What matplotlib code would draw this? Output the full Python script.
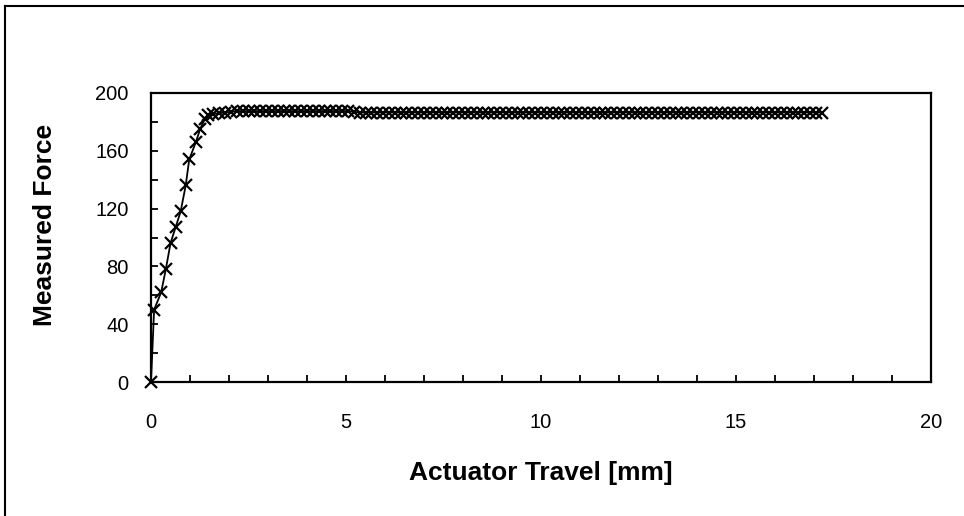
import matplotlib
matplotlib.use("Agg")
import matplotlib.pyplot as plt
from matplotlib.lines import Line2D
from matplotlib.ticker import MultipleLocator

plt.rcParams['font.family'] = ['Liberation Sans', 'DejaVu Sans']

# rising part of the curve
travel_rise = [0, 0.08, 0.26, 0.38, 0.50, 0.63, 0.76, 0.89, 0.98, 1.15, 1.26, 1.38, 1.47]
force_rise = [0, 50, 62, 78, 96, 107, 118, 136, 154, 166, 175, 182, 185]

# plateau
travel_flat = [1.6, 1.75, 1.9, 2.05, 2.2, 2.35, 2.5, 2.65, 2.8, 2.95,
               3.1, 3.25, 3.4, 3.55, 3.7, 3.85, 4.0, 4.15, 4.3, 4.45,
               4.6, 4.75, 4.9, 5.05, 5.2, 5.35, 5.5, 5.65, 5.8, 5.95,
               6.1, 6.25, 6.4, 6.55, 6.7, 6.85, 7.0, 7.15, 7.3, 7.45,
               7.6, 7.75, 7.9, 8.05, 8.2, 8.35, 8.5, 8.65, 8.8, 8.95,
               9.1, 9.25, 9.4, 9.55, 9.7, 9.85, 10.0, 10.15, 10.3, 10.45,
               10.6, 10.75, 10.9, 11.05, 11.2, 11.35, 11.5, 11.65, 11.8, 11.95,
               12.1, 12.25, 12.4, 12.55, 12.7, 12.85, 13.0, 13.15, 13.3, 13.45,
               13.6, 13.75, 13.9, 14.05, 14.2, 14.35, 14.5, 14.65, 14.8, 14.95,
               15.1, 15.25, 15.4, 15.55, 15.7, 15.85, 16.0, 16.15, 16.3, 16.45,
               16.6, 16.75, 16.9, 17.05, 17.2]
force_flat = [185.5, 186, 186.5, 187, 187.5, 187.5, 187.5, 187.5, 187.5, 187.5,
              187.5, 187.5, 187.5, 187.5, 187.5, 187.5, 187.5, 187.5, 187.5, 187.5,
              187.5, 187.5, 187.5, 187.5, 187, 186.5, 186.5, 186.5, 186.5, 186.5,
              186.5, 186.5, 186.5, 186.5, 186.5, 186.5, 186.5, 186.5, 186.5, 186.5,
              186.5, 186.5, 186.5, 186.5, 186.5, 186.5, 186.5, 186.5, 186.5, 186.5,
              186.5, 186.5, 186.5, 186.5, 186.5, 186.5, 186.5, 186.5, 186.5, 186.5,
              186.5, 186.5, 186.5, 186.5, 186.5, 186.5, 186.5, 186.5, 186.5, 186.5,
              186.5, 186.5, 186.5, 186.5, 186.5, 186.5, 186.5, 186.5, 186.5, 186.5,
              186.5, 186.5, 186.5, 186.5, 186.5, 186.5, 186.5, 186.5, 186.5, 186.5,
              186.5, 186.5, 186.5, 186.5, 186.5, 186.5, 186.5, 186.5, 186.5, 186.5,
              186.5, 186.5, 186.5, 186.5, 186.5]

x_ticks = [0, 5, 10, 15, 20]
y_ticks = [0, 40, 80, 120, 160, 200]

travel = travel_rise + travel_flat
force = force_rise + force_flat

fig = plt.figure(figsize=(9.64, 5.16), dpi=100)
ax = fig.add_axes([151 / 964, 1 - 382 / 516, 780 / 964, 289 / 516])

ax.plot(travel, force, color='black', lw=1.3, marker='x', markersize=8.5,
        markeredgewidth=1.6, clip_on=False, zorder=3)

ax.set_xlim(0, 20)
ax.set_ylim(0, 200)
ax.set_xticks(x_ticks)
ax.set_yticks(y_ticks)
ax.xaxis.set_minor_locator(MultipleLocator(1))
ax.yaxis.set_minor_locator(MultipleLocator(20))
ax.tick_params(which='both', direction='in', width=1.3, length=5, color='black')
ax.tick_params(axis='x', labelsize=14.5, pad=22)
ax.tick_params(axis='y', labelsize=14.5, pad=16)
for s in ax.spines.values():
    s.set_linewidth(1.6)

ax.set_xlabel('Actuator Travel [mm]', fontsize=19, fontweight='bold')
ax.set_ylabel('Measured Force', fontsize=19, fontweight='bold')
ax.xaxis.set_label_coords(0.5, -0.272)
ax.yaxis.set_label_coords(-0.121, 0.543)

# chart area border (top and left edges visible)
fig.add_artist(Line2D([5 / 964, 1.0], [1 - 6 / 516, 1 - 6 / 516], color='black', lw=1.5))
fig.add_artist(Line2D([5 / 964, 5 / 964], [0, 1 - 6 / 516], color='black', lw=1.5))

fig.savefig('out.png', dpi=100)
